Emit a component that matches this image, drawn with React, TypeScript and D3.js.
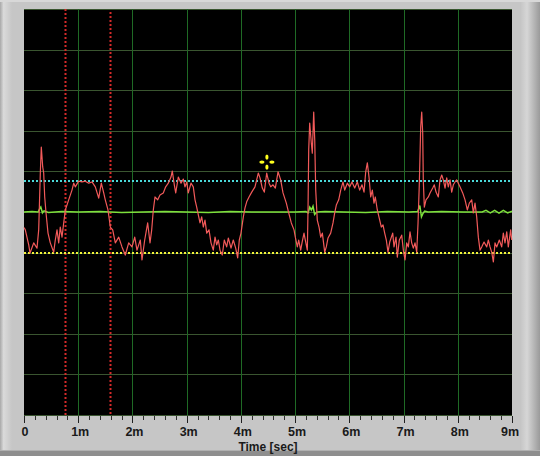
import React from "react";
import * as d3 from "d3";

// ---------- data ----------
const xTickLabels = ["0", "1m", "2m", "3m", "4m", "5m", "6m", "7m", "8m", "9m"];
const xTickValues = [0, 1, 2, 3, 4, 5, 6, 7, 8, 9];
const yGridValues = [0, 1, 2, 3, 4, 5, 6, 7, 8, 9, 10];

const upperLimit = 5.76;
const lowerLimit = 4.0;
const cursorTimes = [0.756, 1.586];
const markerPoint = { t: 4.48, v: 6.23 };

const signalTimes = [
  0.0, 0.024, 0.087, 0.111, 0.179, 0.24, 0.271, 0.301, 0.319, 0.345, 0.363, 0.382, 0.406, 0.443, 0.485,
  0.548, 0.577, 0.609, 0.64, 0.669, 0.701, 0.732, 0.762, 0.824, 0.885, 0.917, 0.946, 1.009, 1.07, 1.131,
  1.193, 1.254, 1.315, 1.378, 1.426, 1.47, 1.499, 1.549, 1.592, 1.636, 1.684, 1.747, 1.807, 1.868, 1.931,
  1.992, 2.042, 2.084, 2.145, 2.176, 2.226, 2.281, 2.324, 2.355, 2.385, 2.416, 2.466, 2.508, 2.569, 2.613,
  2.661, 2.711, 2.735, 2.772, 2.798, 2.846, 2.896, 2.938, 2.969, 3.001, 3.03, 3.08, 3.122, 3.154, 3.185,
  3.215, 3.246, 3.277, 3.307, 3.338, 3.37, 3.412, 3.449, 3.491, 3.523, 3.554, 3.584, 3.615, 3.657, 3.694,
  3.738, 3.768, 3.818, 3.86, 3.904, 3.941, 3.971, 4.002, 4.045, 4.076, 4.107, 4.15, 4.2, 4.26, 4.321,
  4.353, 4.395, 4.432, 4.476, 4.519, 4.55, 4.592, 4.635, 4.685, 4.734, 4.777, 4.838, 4.882, 4.93, 4.98,
  5.004, 5.041, 5.066, 5.103, 5.127, 5.164, 5.188, 5.225, 5.238, 5.251, 5.269, 5.299, 5.317, 5.343, 5.362,
  5.38, 5.409, 5.441, 5.472, 5.502, 5.546, 5.575, 5.607, 5.656, 5.699, 5.73, 5.76, 5.804, 5.841, 5.883,
  5.915, 5.963, 6.007, 6.049, 6.099, 6.147, 6.191, 6.234, 6.271, 6.302, 6.332, 6.363, 6.394, 6.424, 6.455,
  6.479, 6.516, 6.56, 6.59, 6.621, 6.652, 6.682, 6.713, 6.745, 6.8, 6.824, 6.861, 6.885, 6.922, 6.966,
  6.996, 7.027, 7.058, 7.088, 7.119, 7.15, 7.18, 7.211, 7.243, 7.267, 7.291, 7.316, 7.335, 7.353, 7.364,
  7.383, 7.414, 7.457, 7.488, 7.538, 7.567, 7.599, 7.641, 7.672, 7.704, 7.733, 7.765, 7.796, 7.825, 7.857,
  7.888, 7.918, 7.949, 7.98, 8.041, 8.091, 8.134, 8.176, 8.213, 8.257, 8.287, 8.318, 8.349, 8.379, 8.41,
  8.441, 8.484, 8.534, 8.563, 8.595, 8.626, 8.656, 8.687, 8.718, 8.766, 8.81, 8.84, 8.871, 8.903, 8.932,
  8.976, 8.995,
];

const signalValues = [
  4.62, 4.56, 4.19, 3.99, 4.24, 4.11, 4.56, 5.96, 6.6, 6.11, 5.96, 5.37, 4.98, 4.48, 4.24,
  4.01, 4.31, 4.56, 4.24, 4.63, 4.38, 4.73, 5.05, 5.3, 5.54, 5.71, 5.62, 5.76, 5.74, 5.76,
  5.71, 5.74, 5.62, 5.34, 5.71, 5.47, 5.3, 5.05, 4.63, 4.56, 4.24, 4.38, 4.14, 3.94, 4.24,
  4.14, 4.38, 4.06, 4.31, 3.82, 4.31, 4.73, 4.24, 4.56, 5.05, 5.37, 5.3, 5.42, 5.47, 5.62,
  5.71, 5.86, 6.01, 5.67, 5.47, 5.86, 5.71, 5.81, 5.62, 5.74, 5.47, 5.71, 5.62, 5.3, 5.12,
  4.93, 4.73, 4.88, 4.63, 4.8, 4.48, 4.56, 4.24, 4.06, 4.38, 4.19, 4.31, 4.06, 3.94, 4.31,
  4.14, 4.36, 4.11, 4.31, 4.11, 3.87, 4.31, 4.48, 4.88, 5.1, 5.25, 5.37, 5.49, 5.62, 5.96,
  5.84, 5.59, 5.49, 5.96, 5.71, 5.62, 5.67, 5.59, 5.99, 5.79, 5.47, 5.22, 4.98, 4.73, 4.56,
  4.38, 4.14, 4.31, 4.06, 4.24, 4.48, 4.31, 4.06, 5.05, 6.53, 7.19, 6.7, 6.45, 7.46, 6.77,
  5.54, 4.8, 4.63, 4.38, 4.48, 4.01, 4.14, 4.36, 4.48, 4.73, 4.98, 5.17, 5.3, 5.54, 5.74,
  5.54, 5.71, 5.62, 5.74, 5.59, 5.74, 5.54, 5.67, 5.49, 5.99, 6.21, 5.86, 5.37, 5.54, 5.22,
  5.37, 5.05, 4.8, 4.63, 4.68, 4.48, 4.31, 4.01, 4.26, 4.48, 4.14, 4.38, 3.89, 4.31, 4.43,
  4.06, 3.82, 4.24, 4.14, 4.51, 4.24, 4.11, 4.24, 4.01, 4.73, 5.71, 7.09, 7.46, 6.95, 5.79,
  5.12, 5.3, 5.37, 5.47, 5.59, 5.67, 5.49, 5.37, 5.79, 5.91, 5.79, 5.59, 5.84, 5.62, 5.79,
  5.49, 5.67, 5.74, 5.79, 5.62, 5.47, 5.3, 5.05, 5.22, 5.3, 4.98, 5.22, 4.88, 4.38, 4.06,
  4.14, 4.26, 4.14, 4.31, 4.14, 4.01, 3.77, 4.24, 4.14, 4.31, 4.14, 4.48, 4.24, 4.51, 4.14,
  4.56, 4.31,
];

const meanTimes = [
  0, 0.15, 0.26, 0.29, 0.31, 0.34, 0.37, 0.45, 0.7, 1.0, 1.4, 1.8, 2.2, 2.6, 3.0, 3.4, 3.8, 4.2, 4.6,
  5.0, 5.2, 5.24, 5.27, 5.3, 5.33, 5.36, 5.4, 5.55, 5.9, 6.3, 6.7, 7.1, 7.26, 7.3, 7.33, 7.36, 7.39,
  7.45, 7.7, 8.1, 8.45, 8.52, 8.6, 8.68, 8.76, 8.84, 8.92, 9.0,
];
const meanValues = [
  5.0, 5.01, 5.0, 5.08, 5.12, 4.98, 5.03, 4.99, 5.01, 5.0, 5.01, 4.99, 5.0, 5.01, 5.0, 4.99, 5.01, 5.0, 5.0,
  5.0, 5.01, 4.98, 5.12, 5.05, 5.14, 4.94, 5.0, 5.01, 5.0, 4.99, 5.01, 5.0, 5.01, 5.16, 4.88, 4.97, 5.02,
  5.0, 5.01, 5.0, 5.0, 5.04, 4.98, 5.04, 4.97, 5.04, 4.98, 5.02,
];

// ---------- layout ----------
const W = 540;
const H = 456;
const plot = { left: 24, right: 512, top: 9, bottom: 415 };

export default function App() {
  const x = d3.scaleLinear().domain([0, 9]).range([plot.left, plot.right]);
  const y = d3.scaleLinear().domain([0, 10]).range([plot.bottom, plot.top]);

  const signal = signalTimes.map((t, i) => [t, signalValues[i]] as [number, number]);
  const mean = meanTimes.map((t, i) => [t, meanValues[i]] as [number, number]);
  const line = d3
    .line<[number, number]>()
    .x((d) => x(d[0]))
    .y((d) => y(d[1]));

  const minorTicks = d3.range(0, 9.0001, 0.2).filter((v) => Math.abs(v - Math.round(v)) > 0.01);

  const mx = x(markerPoint.t);
  const my = y(markerPoint.v);

  return (
    <svg
      width={W}
      height={H}
      style={{ position: "absolute", left: 0, top: 0, display: "block" }}
      fontFamily="'Liberation Sans', Arial, sans-serif"
    >
      <defs>
        <linearGradient id="rightBevel" x1="0" x2="1" y1="0" y2="0">
          <stop offset="0" stopColor="#c4c4c4" />
          <stop offset="0.35" stopColor="#d6d6d6" />
          <stop offset="1" stopColor="#9a9a9a" />
        </linearGradient>
        <linearGradient id="leftBevel" x1="0" x2="1" y1="0" y2="0">
          <stop offset="0" stopColor="#a8a8a8" />
          <stop offset="0.3" stopColor="#dadada" />
          <stop offset="1" stopColor="#c6c6c6" />
        </linearGradient>
      </defs>

      {/* frame */}
      <rect x={0} y={0} width={W} height={H} fill="#c6c6c6" />
      <rect x={0} y={0} width={12} height={H} fill="url(#leftBevel)" />
      <rect x={520} y={0} width={20} height={H} fill="url(#rightBevel)" />
      <rect x={0} y={0} width={W} height={2} fill="#d8d8d8" />
      <rect x={0} y={451} width={W} height={5} fill="#8e8e8e" />
      <rect x={0} y={450} width={W} height={1} fill="#b0b0b0" />

      {/* plot area */}
      <rect
        x={plot.left}
        y={plot.top}
        width={plot.right - plot.left}
        height={plot.bottom - plot.top}
        fill="#000000"
      />

      {/* grid */}
      {yGridValues.map((v) => (
        <line
          key={"hg" + v}
          x1={plot.left}
          x2={plot.right}
          y1={Math.round(y(v)) + 0.5}
          y2={Math.round(y(v)) + 0.5}
          stroke="#3a5530"
          strokeWidth={1}
        />
      ))}
      {xTickValues.slice(1, -1).map((v) => (
        <line
          key={"vg" + v}
          x1={Math.round(x(v)) + 0.5}
          x2={Math.round(x(v)) + 0.5}
          y1={plot.top}
          y2={plot.bottom}
          stroke="#1f6a25"
          strokeWidth={1}
        />
      ))}

      {/* cursors */}
      <line
        x1={Math.round(x(cursorTimes[0])) + 0.5}
        x2={Math.round(x(cursorTimes[0])) + 0.5}
        y1={plot.top}
        y2={plot.bottom}
        stroke="#d42a2a"
        strokeWidth={2}
        strokeDasharray="2,2"
      />
      <line
        x1={Math.round(x(cursorTimes[1])) + 0.5}
        x2={Math.round(x(cursorTimes[1])) + 0.5}
        y1={plot.top + 3}
        y2={plot.bottom}
        stroke="#d42a2a"
        strokeWidth={2}
        strokeDasharray="2,2"
      />

      {/* limits */}
      <line
        x1={plot.left}
        x2={plot.right}
        y1={Math.round(y(upperLimit))}
        y2={Math.round(y(upperLimit))}
        stroke="#4ad8d8"
        strokeWidth={2}
        strokeDasharray="2,2"
      />
      <line
        x1={plot.left}
        x2={plot.right}
        y1={Math.round(y(lowerLimit))}
        y2={Math.round(y(lowerLimit))}
        stroke="#f2f23a"
        strokeWidth={2}
        strokeDasharray="2,2"
      />

      {/* mean trace */}
      <path d={line(mean) ?? ""} fill="none" stroke="#7ee03c" strokeWidth={1.5} />

      {/* signal */}
      <path d={line(signal) ?? ""} fill="none" stroke="#f25a5a" strokeWidth={1.2} strokeLinejoin="round" />

      {/* marker */}
      <g fill="#ffff1e">
        <ellipse cx={mx} cy={my - 5} rx={1.6} ry={2.6} />
        <ellipse cx={mx} cy={my + 5} rx={1.6} ry={2.6} />
        <ellipse cx={mx - 5} cy={my} rx={2.6} ry={1.6} />
        <ellipse cx={mx + 5} cy={my} rx={2.6} ry={1.6} />
      </g>

      {/* x axis ticks */}
      {xTickValues.map((v) => (
        <line
          key={"mt" + v}
          x1={Math.round(x(v)) + 0.5}
          x2={Math.round(x(v)) + 0.5}
          y1={416}
          y2={423}
          stroke="#202020"
          strokeWidth={1}
        />
      ))}
      {minorTicks.map((v) => (
        <line
          key={"nt" + v.toFixed(1)}
          x1={Math.round(x(v)) + 0.5}
          x2={Math.round(x(v)) + 0.5}
          y1={416}
          y2={420}
          stroke="#303030"
          strokeWidth={1}
        />
      ))}
      {xTickValues.map((v, i) => (
        <text
          key={"tl" + v}
          x={i === 0 ? x(v) + 1 : i === xTickValues.length - 1 ? x(v) - 2 : x(v) + 2}
          y={436}
          textAnchor="middle"
          fontSize={12.5}
          fontWeight="bold"
          fill="#1a1a1a"
        >
          {xTickLabels[i]}
        </text>
      ))}
      <text x={268} y={451} textAnchor="middle" fontSize={12} fontWeight="bold" fill="#1a1a1a">
        Time [sec]
      </text>
    </svg>
  );
}
